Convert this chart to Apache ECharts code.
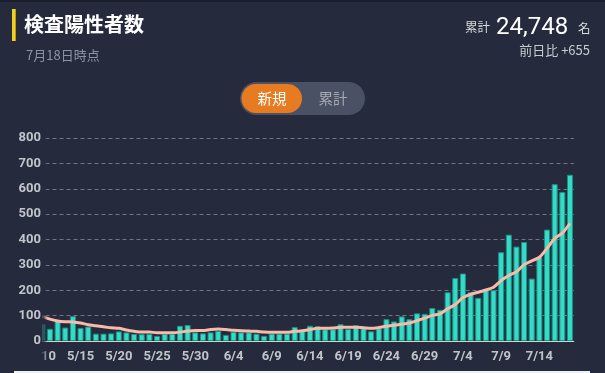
<!DOCTYPE html>
<html><head><meta charset="utf-8">
<script src="https://cdn.jsdelivr.net/npm/echarts@6/dist/echarts.min.js"></script>
<style>html,body{margin:0;padding:0;background:#252a3d;}#c{width:605px;height:373px;}</style>
</head><body><div id="c"></div>
<script>
const categories = [
 '5/10','5/11','5/12','5/13','5/14','5/15','5/16','5/17','5/18','5/19','5/20','5/21','5/22','5/23','5/24','5/25','5/26','5/27','5/28','5/29','5/30','5/31',
 '6/1','6/2','6/3','6/4','6/5','6/6','6/7','6/8','6/9','6/10','6/11','6/12','6/13','6/14','6/15','6/16','6/17','6/18','6/19','6/20','6/21','6/22','6/23','6/24','6/25','6/26','6/27','6/28','6/29','6/30',
 '7/1','7/2','7/3','7/4','7/5','7/6','7/7','7/8','7/9','7/10','7/11','7/12','7/13','7/14','7/15','7/16','7/17','7/18'
];
const dailyPositive = [
 67,48,79,53,98,51,57,29,29,30,38,34,28,27,28,20,28,28,60,63,34,30,
 34,40,24,36,34,34,29,20,29,29,29,55,39,60,58,46,46,66,47,62,50,38,50,86,77,97,86,109,107,130,
 123,192,248,266,192,170,205,200,350,419,372,390,246,331,439,618,587,655
];
const weeklyAverage = [
 97,86,79,76,75,71,64,60,56,52,50,43,38,35,35,33,33,33,35,39,41,41,
 45,47,45,42,40,39,38,35,34,34,34,38,40,45,50,50,51,54,54,54,52,50,53,58,62,66,71,80,90,101,
 107,127,144,171,184,192,201,212,238,258,273,301,316,330,365,404,425,464
];
const yMin = 0, yMax = 800, yStep = 100;
const titleText = '検査陽性者数';
const dateText = '7月18日時点';
const totalLabel = '累計';
const totalValue = '24,748';
const totalUnit = '名';
const diffText = '前日比 +655';
const toggleOn = '新規';
const toggleOff = '累計';

const BG = '#252a3d';
const FONT = 'Roboto, "Noto Sans CJK JP", sans-serif';
const chart = echarts.init(document.getElementById('c'), null, {renderer: 'canvas'});
const labelStyle = {color: '#c1c4cb', fontWeight: 'bold', fontSize: 13, fontFamily: FONT};

chart.setOption({
  backgroundColor: BG,
  animation: false,
  grid: [
    {left: 38.5, right: 31.2, top: 138, bottom: 32},
    {left: 43, width: 1, top: 138, bottom: 32}
  ],
  xAxis: [
    {type: 'category', gridIndex: 0, data: categories, boundaryGap: true,
     axisLine: {show: true, lineStyle: {color: '#d4d6da', width: 1}},
     axisTick: {show: false},
     axisLabel: Object.assign({interval: 4, margin: 9}, labelStyle),
     splitLine: {show: false}},
    {type: 'value', gridIndex: 1, show: false}
  ],
  yAxis: [
    {type: 'value', gridIndex: 0, min: yMin, max: yMax, interval: yStep,
     axisLine: {show: false}, axisTick: {show: false}, axisLabel: {show: false},
     splitLine: {show: true, lineStyle: {color: '#70768a', type: [4, 3], width: 1}}},
    {type: 'value', gridIndex: 1, min: yMin, max: yMax, interval: yStep, z: 200,
     axisLine: {show: false}, axisTick: {show: false}, splitLine: {show: false},
     axisLabel: Object.assign({margin: 2}, labelStyle)}
  ],
  series: [
    {type: 'bar', data: dailyPositive, xAxisIndex: 0, yAxisIndex: 0, barWidth: 6,
     itemStyle: {color: '#33dcc6', borderColor: '#1f8f84', borderWidth: 1}, z: 2},
    {type: 'line', data: weeklyAverage, xAxisIndex: 0, yAxisIndex: 0, smooth: 0.3,
     showSymbol: false, symbol: 'none',
     lineStyle: {color: '#fbb9a9', width: 3}, z: 3}
  ],
  graphic: [
    {type: 'rect', z: 100, shape: {x: 0, y: 125, width: 42.5, height: 246}, style: {fill: BG}},
    {type: 'rect', z: 100, shape: {x: 42.5, y: 125, width: 5, height: 246},
     style: {fill: new echarts.graphic.LinearGradient(0, 0, 1, 0, [
       {offset: 0, color: 'rgba(37,42,61,0.95)'}, {offset: 1, color: 'rgba(37,42,61,0)'}])}},
    {type: 'rect', z: 100, shape: {x: 0, y: 0, width: 605, height: 2}, style: {fill: '#1a1f2e'}},
    {type: 'rect', z: 100, shape: {x: 14, y: 371, width: 576, height: 2}, style: {fill: '#eef0f2'}},
    {type: 'rect', z: 100, shape: {x: 12, y: 9, width: 3.7, height: 32}, style: {fill: '#f2cf1d'}},
    {type: 'text', z: 100, style: {text: titleText, x: 24, y: 24, verticalAlign: 'middle',
      fill: '#ffffff', font: 'bold 20px "Noto Sans CJK JP", sans-serif'}},
    {type: 'text', z: 100, style: {text: dateText, x: 26, y: 55, verticalAlign: 'middle',
      fill: '#8e93a3', font: '13px "Noto Sans CJK JP", sans-serif'}},
    {type: 'text', z: 100, style: {text: totalLabel, x: 490, y: 34, align: 'right', verticalAlign: 'bottom',
      fill: '#d8dade', font: '12.5px "Noto Sans CJK JP", sans-serif'}},
    {type: 'text', z: 100, style: {text: totalValue, x: 496, y: 39.5, align: 'left', verticalAlign: 'bottom',
      fill: '#ffffff', font: '24px Roboto, sans-serif'}},
    {type: 'text', z: 100, style: {text: totalUnit, x: 578, y: 35, align: 'left', verticalAlign: 'bottom',
      fill: '#d8dade', font: '12.5px "Noto Sans CJK JP", sans-serif'}},
    {type: 'text', z: 100, style: {text: diffText, x: 590, y: 50, align: 'right', verticalAlign: 'middle',
      fill: '#c8cad0', font: '13px "Noto Sans CJK JP", Roboto, sans-serif'}},
    {type: 'rect', z: 100, shape: {x: 240, y: 82, width: 125, height: 33, r: 16.5}, style: {fill: '#4a5164'}},
    {type: 'rect', z: 101, shape: {x: 241.5, y: 84, width: 60.5, height: 29, r: 14.5}, style: {fill: '#e67b22'}},
    {type: 'text', z: 102, style: {text: toggleOn, x: 272, y: 98.5, align: 'center', verticalAlign: 'middle',
      fill: '#ffffff', font: '14.5px "Noto Sans CJK JP", sans-serif'}},
    {type: 'text', z: 102, style: {text: toggleOff, x: 333, y: 98.5, align: 'center', verticalAlign: 'middle',
      fill: '#a6aab5', font: '14.5px "Noto Sans CJK JP", sans-serif'}}
  ]
});
</script>
</body></html>
